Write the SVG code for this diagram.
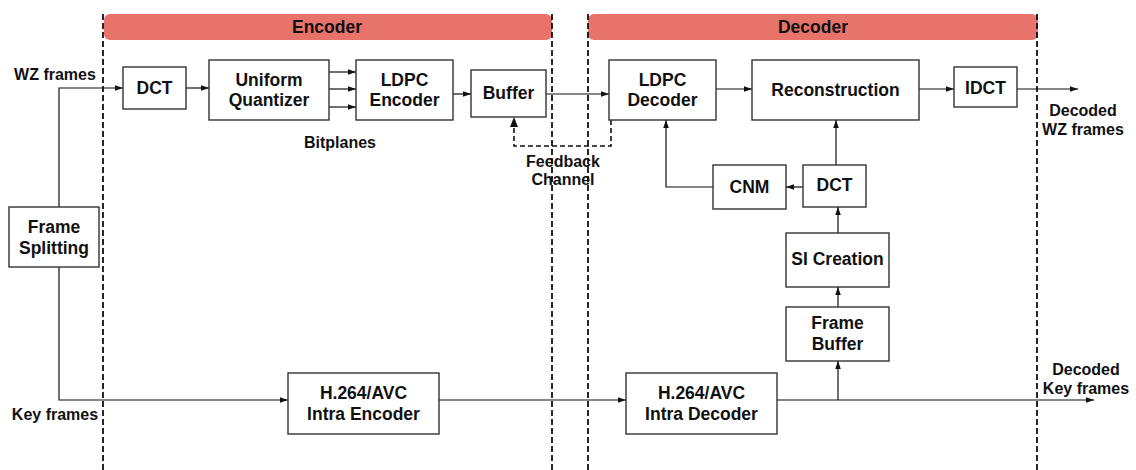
<svg xmlns="http://www.w3.org/2000/svg" width="1136" height="470" viewBox="0 0 1136 470">
  <style>
    .box { fill: #fff; stroke: #333; stroke-width: 1.4; }
    .t { font-family: "Liberation Sans", Arial, sans-serif; font-weight: bold; font-size: 17.5px; fill: #111; text-anchor: middle; }
    .lbl { font-family: "Liberation Sans", Arial, sans-serif; font-weight: bold; font-size: 16px; fill: #111; text-anchor: middle; }
    .hdr { font-family: "Liberation Sans", Arial, sans-serif; font-weight: bold; font-size: 17.5px; fill: #111; text-anchor: middle; }
    .bar { fill: #E8736B; }
    .wire { fill: none; stroke: #111; stroke-width: 1.2; }
    .arrow { fill: none; stroke: #111; stroke-width: 1.2; marker-end: url(#ah); }
    .fb { fill: none; stroke: #111; stroke-width: 1.6; stroke-dasharray: 5 3; }
    .sep { fill: none; stroke: #111; stroke-width: 1.8; stroke-dasharray: 6 3; }
  </style>
  <defs>
    <marker id="ah" viewBox="0 0 10 10" refX="10" refY="5" markerWidth="8" markerHeight="8" markerUnits="userSpaceOnUse" orient="auto">
      <path d="M0,1.5 L10,5 L0,8.5 z" fill="#111"/>
    </marker>
  </defs>

  <rect width="1136" height="470" fill="#fff"/>

  <!-- section headers -->
  <g id="encoder-header">
    <rect class="bar" x="104" y="14" width="448" height="26" rx="6"/>
    <text class="hdr" x="327" y="33">Encoder</text>
  </g>
  <g id="decoder-header">
    <rect class="bar" x="588" y="14" width="450" height="26" rx="6"/>
    <text class="hdr" x="813" y="33">Decoder</text>
  </g>

  <!-- section boundaries -->
  <g id="boundaries">
    <line class="sep" x1="103" y1="14" x2="103" y2="470"/>
    <line class="sep" x1="552" y1="14" x2="552" y2="470"/>
    <line class="sep" x1="588" y1="14" x2="588" y2="470"/>
    <line class="sep" x1="1037" y1="14" x2="1037" y2="470"/>
  </g>

  <!-- connectors -->
  <g id="connectors">
    <path class="arrow" d="M59,207 L59,88 L123,88"/>
    <path class="arrow" d="M59,267 L59,400 L288,400"/>
    <path class="arrow" d="M186,88 L209,88"/>
    <path class="arrow" d="M329,72 L356,72"/>
    <path class="arrow" d="M329,89 L356,89"/>
    <path class="arrow" d="M329,107 L356,107"/>
    <path class="arrow" d="M453,94 L471,94"/>
    <path class="arrow" d="M546,94 L609,94"/>
    <path class="arrow" d="M716,89 L752,89"/>
    <path class="arrow" d="M919,89 L954,89"/>
    <path class="arrow" d="M1017,89 L1078,89"/>
    <path class="fb" d="M611,120 L611,146 L514,146 L514,126"/>
    <path d="M510,127 L514,117 L518,127 z" fill="#111"/>
    <path class="arrow" d="M439,400 L626,400"/>
    <path class="arrow" d="M777,400 L1094,400"/>
    <path class="arrow" d="M838,400 L838,361"/>
    <path class="arrow" d="M838,307 L838,287"/>
    <path class="arrow" d="M838,233 L838,207"/>
    <path class="arrow" d="M836,165 L836,120"/>
    <path class="arrow" d="M803,187 L786,187"/>
    <path class="arrow" d="M713,187 L666,187 L666,120"/>
  </g>

  <!-- nodes -->
  <g id="frame-splitting">
    <rect class="box" x="9" y="207" width="90" height="60"/>
    <text class="t" x="54" y="233">Frame</text>
    <text class="t" x="54" y="254">Splitting</text>
  </g>
  <g id="dct-enc">
    <rect class="box" x="123" y="67" width="63" height="42"/>
    <text class="t" x="154.5" y="94">DCT</text>
  </g>
  <g id="quantizer">
    <rect class="box" x="209" y="60" width="120" height="60"/>
    <text class="t" x="269" y="86">Uniform</text>
    <text class="t" x="269" y="106">Quantizer</text>
  </g>
  <g id="ldpc-encoder">
    <rect class="box" x="356" y="60" width="97" height="60"/>
    <text class="t" x="404.5" y="86">LDPC</text>
    <text class="t" x="404.5" y="106">Encoder</text>
  </g>
  <g id="buffer">
    <rect class="box" x="471" y="70" width="75" height="47"/>
    <text class="t" x="508.5" y="99">Buffer</text>
  </g>
  <g id="ldpc-decoder">
    <rect class="box" x="609" y="60" width="107" height="60"/>
    <text class="t" x="662.5" y="86">LDPC</text>
    <text class="t" x="662.5" y="106">Decoder</text>
  </g>
  <g id="reconstruction">
    <rect class="box" x="752" y="60" width="167" height="60"/>
    <text class="t" x="835.5" y="96">Reconstruction</text>
  </g>
  <g id="idct">
    <rect class="box" x="954" y="67" width="63" height="40"/>
    <text class="t" x="985.5" y="94">IDCT</text>
  </g>
  <g id="cnm">
    <rect class="box" x="713" y="165" width="73" height="44"/>
    <text class="t" x="749.5" y="193">CNM</text>
  </g>
  <g id="dct-dec">
    <rect class="box" x="803" y="165" width="63" height="42"/>
    <text class="t" x="834.5" y="191">DCT</text>
  </g>
  <g id="si-creation">
    <rect class="box" x="786" y="233" width="103" height="54"/>
    <text class="t" x="837.5" y="265">SI Creation</text>
  </g>
  <g id="frame-buffer">
    <rect class="box" x="786" y="307" width="103" height="54"/>
    <text class="t" x="837.5" y="329">Frame</text>
    <text class="t" x="837.5" y="350">Buffer</text>
  </g>
  <g id="intra-encoder">
    <rect class="box" x="288" y="373" width="151" height="61"/>
    <text class="t" x="363.5" y="399">H.264/AVC</text>
    <text class="t" x="363.5" y="420">Intra Encoder</text>
  </g>
  <g id="intra-decoder">
    <rect class="box" x="626" y="373" width="151" height="61"/>
    <text class="t" x="701.5" y="399">H.264/AVC</text>
    <text class="t" x="701.5" y="420">Intra Decoder</text>
  </g>

  <!-- free labels -->
  <g id="labels">
    <text class="lbl" x="55" y="80">WZ frames</text>
    <text class="lbl" x="55" y="420">Key frames</text>
    <text class="lbl" x="340" y="148">Bitplanes</text>
    <text class="lbl" x="563" y="167">Feedback</text>
    <text class="lbl" x="563" y="185">Channel</text>
    <text class="lbl" x="1083" y="116">Decoded</text>
    <text class="lbl" x="1083" y="135">WZ frames</text>
    <text class="lbl" x="1086" y="375">Decoded</text>
    <text class="lbl" x="1086" y="394">Key frames</text>
  </g>
</svg>
